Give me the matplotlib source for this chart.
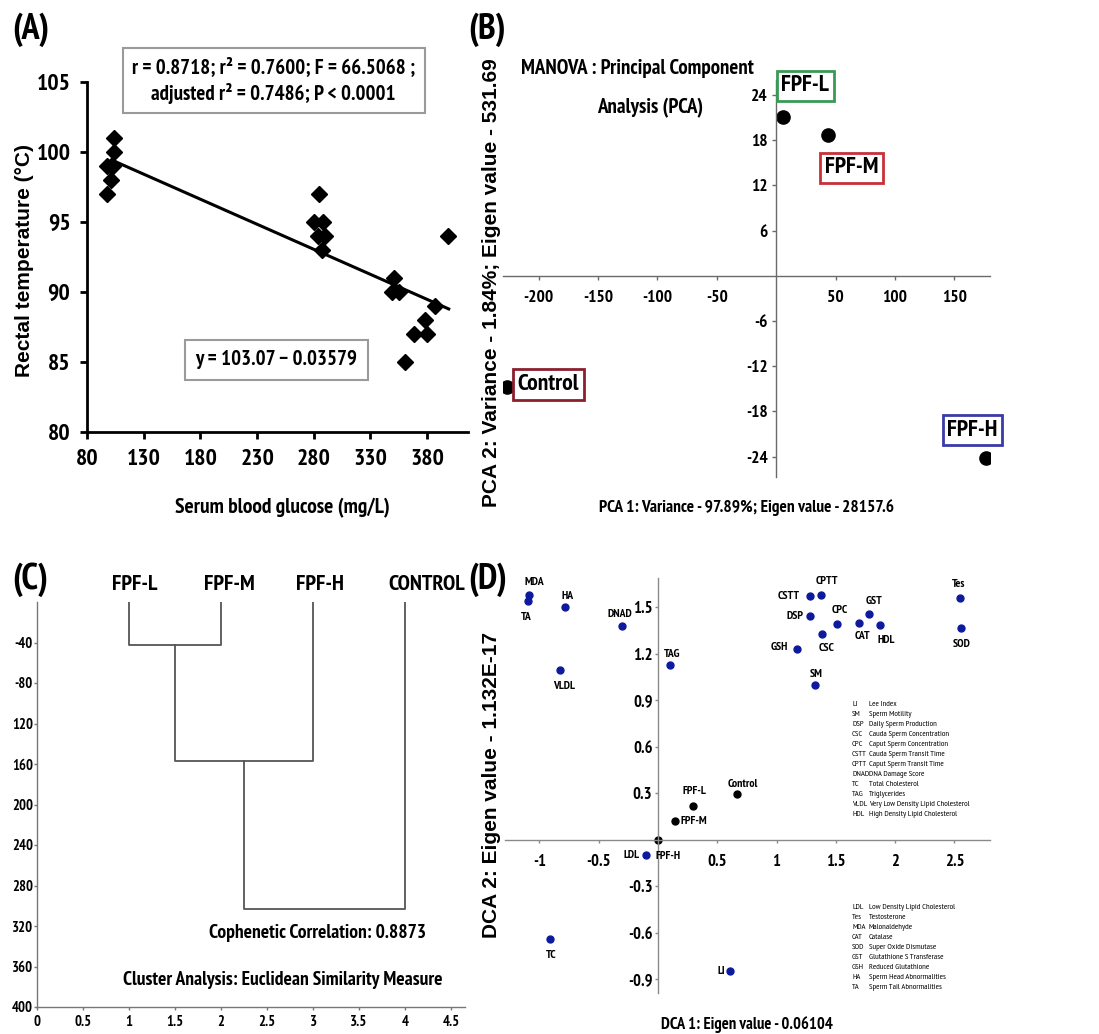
import matplotlib
matplotlib.use('Agg')
import matplotlib.pyplot as plt

# ---------------- data ----------------
# Panel A: rectal temperature vs serum blood glucose
glucose = [98, 101, 98, 101, 103, 104, 104,
           285, 280, 288, 284, 290, 287,
           350.5, 349, 355, 360, 368, 378, 379.5, 387, 398]
temperature = [97, 98, 99, 99, 99, 100, 101,
               97, 95, 95, 94, 94, 93,
               91, 90, 90, 85, 87, 88, 87, 89, 94]
fit_intercept = 103.07
fit_slope = -0.03579
fit_x = [104, 399]
a_xticks = [80, 130, 180, 230, 280, 330, 380]
a_yticks = [80, 85, 90, 95, 100, 105]
stats_text = "r = 0.8718; r\u00b2 = 0.7600; F = 66.5068 ;\nadjusted r\u00b2 = 0.7486; P < 0.0001"
eq_text = "y = 103.07 \u2212 0.03579"

# Panel B: PCA scores
pca_groups = ['FPF-L', 'FPF-M', 'Control', 'FPF-H']
pca1 = [6, 43.5, -227, 177]
pca2 = [21.1, 18.7, -14.7, -24.2]
b_xticks = [-200, -150, -100, -50, 50, 100, 150]
b_yticks = [-24, -18, -12, -6, 6, 12, 18, 24]

# Panel C: dendrogram
leaves = ['FPF-L', 'FPF-M', 'FPF-H', 'CONTROL']
leaf_x = [1, 2, 3, 4]
merges = [(0, 1, 42), (4, 2, 157), (5, 3, 303)]   # (node a, node b, height)
c_yticks = [40, 80, 120, 160, 200, 240, 280, 320, 360, 400]
c_ytick_labels = ['-40', '-80', '120', '160', '200', '240', '280', '320', '360', '400']
c_xticks = [0, 0.5, 1, 1.5, 2, 2.5, 3, 3.5, 4, 4.5]
c_xtick_labels = ['0', '0.5', '1', '1.5', '2', '2.5', '3', '3.5', '4', '4.5']

# Panel D: DCA variables and groups
dca_vars = ['MDA', 'TA', 'HA', 'DNAD', 'VLDL', 'TAG', 'TC', 'LDL', 'LI',
            'CSTT', 'CPTT', 'DSP', 'CSC', 'CPC', 'GSH', 'SM', 'CAT', 'GST',
            'HDL', 'Tes', 'SOD']
dca_var_x = [-1.09, -1.10, -0.78, -0.30, -0.83, 0.10, -0.91, -0.10, 0.61,
             1.283, 1.378, 1.283, 1.387, 1.513, 1.176, 1.328, 1.696, 1.783,
             1.873, 2.55, 2.555]
dca_var_y = [1.583, 1.54, 1.50, 1.38, 1.095, 1.125, -0.64, -0.10, -0.845,
             1.574, 1.578, 1.445, 1.33, 1.393, 1.233, 0.996, 1.397, 1.457,
             1.384, 1.56, 1.367]
dca_groups = ['FPF-L', 'FPF-M', 'Control', 'FPF-H']
dca_grp_x = [0.298, 0.146, 0.669, 0.0]
dca_grp_y = [0.215, 0.118, 0.296, 0.0]
d_xticks = [-1, -0.5, 0.5, 1, 1.5, 2, 2.5]
d_xtick_labels = ['-1', '-0.5', '0.5', '1', '1.5', '2', '2.5']
d_yticks = [-0.9, -0.6, -0.3, 0.3, 0.6, 0.9, 1.2, 1.5]
d_ytick_labels = ['-0.9', '-0.6', '-0.3', '0.3', '0.6', '0.9', '1.2', '1.5']
legend1 = [('LI', 'Lee Index'), ('SM', 'Sperm Motility'), ('DSP', 'Daily Sperm Production'),
           ('CSC', 'Cauda Sperm Concentration'), ('CPC', 'Caput Sperm Concentration'),
           ('CSTT', 'Cauda Sperm Transit Time'), ('CPTT', 'Caput Sperm Transit Time'),
           ('DNAD', 'DNA Damage Score'), ('TC', 'Total Cholesterol'), ('TAG', 'Triglycerides'),
           ('VLDL', 'Very Low Density Lipid Cholesterol'), ('HDL', 'High Density Lipid Cholesterol')]
legend2 = [('LDL', 'Low Density Lipid Cholesterol'), ('Tes', 'Testosterone'),
           ('MDA', 'Malonaldehyde'), ('CAT', 'Catalase'), ('SOD', 'Super Oxide Dismutase'),
           ('GST', 'Glutathione S Transferase'), ('GSH', 'Reduced Glutathione'),
           ('HA', 'Sperm Head Abnormalities'), ('TA', 'Sperm Tail Abnormalities')]

# ---------------- style ----------------
NARROW = ['PT Sans Narrow', 'Roboto Condensed', 'Liberation Sans', 'DejaVu Sans']
WIDE = ['Liberation Sans', 'DejaVu Sans']
plt.rcParams['font.family'] = NARROW
plt.rcParams['font.weight'] = 'bold'
plt.rcParams['axes.labelweight'] = 'bold'
plt.rcParams['axes.unicode_minus'] = False

W, H = 1099, 1034
fig = plt.figure(figsize=(W / 100, H / 100), dpi=100)


def rect(l, r, t, b):
    return [l / W, 1 - b / H, (r - l) / W, (b - t) / H]


def bold_ticks(ax, size):
    for lab in ax.get_xticklabels() + ax.get_yticklabels():
        lab.set_fontsize(size)
        lab.set_fontweight('bold')


# ---------------- Panel A ----------------
axA = fig.add_axes(rect(87, 468, 82, 432))
axA.plot(glucose, temperature, linestyle='none', marker='D', color='black', ms=8)
fy = [fit_intercept + fit_slope * x for x in fit_x]
axA.plot(fit_x, fy, color='black', lw=2.2)
axA.set_xlim(80, 416)
axA.set_ylim(80, 105)
axA.set_xticks(a_xticks)
axA.set_yticks(a_yticks)
for s in ['top', 'right']:
    axA.spines[s].set_visible(False)
for s in ['left', 'bottom']:
    axA.spines[s].set_linewidth(2)
axA.tick_params(direction='out', length=5, width=2, pad=7)
bold_ticks(axA, 17)
axA.set_xlabel('Serum blood glucose (mg/L)', fontsize=15.5, fontweight='bold')
axA.xaxis.set_label_coords(0.512, -0.217)
axA.xaxis.label.set_va('center')
axA.set_ylabel('Rectal temperature (\u00b0C)', fontsize=15, family=WIDE, fontweight='bold')
axA.yaxis.set_label_coords(-0.165, 0.491)
axA.yaxis.label.set_va('center')
axA.text(0.49, 1.004, stats_text, transform=axA.transAxes, ha='center', va='center',
         fontsize=15, linespacing=1.35,
         bbox=dict(boxstyle='square,pad=0.45', fc='white', ec='#9a9a9a', lw=1.5))
axA.text(0.497, 0.206, eq_text, transform=axA.transAxes, ha='center', va='center',
         fontsize=15,
         bbox=dict(boxstyle='square,pad=0.5', fc='white', ec='#9a9a9a', lw=1.5))
fig.text(12 / W, 1 - 30 / H, '(A)', fontsize=26, va='center', ha='left')

# ---------------- Panel B ----------------
axB = fig.add_axes(rect(503, 990, 80, 477))
axB.plot(pca1, pca2, linestyle='none', marker='o', color='black', ms=9.5)
axB.set_xlim(-230, 180)
axB.set_ylim(-26.7, 26)
axB.spines['left'].set_position(('data', 0))
axB.spines['bottom'].set_position(('data', 0))
for s in ['top', 'right']:
    axB.spines[s].set_visible(False)
for s in ['left', 'bottom']:
    axB.spines[s].set_color('#6a6a6a')
    axB.spines[s].set_linewidth(1)
axB.set_xticks(b_xticks)
axB.set_yticks(b_yticks)
axB.tick_params(direction='out', length=3, width=1, color='#6a6a6a', pad=3)
axB.tick_params(axis='x', pad=7)
bold_ticks(axB, 12.5)
b_colors = ['#3a9a55', '#c8303a', '#8a1f2e', '#3a3aa8']
b_offsets = [(22, 31), (24, -33), (42, 2), (-14, 28)]
for name, x, y, c, off in zip(pca_groups, pca1, pca2, b_colors, b_offsets):
    axB.annotate(name, (x, y), xytext=off, textcoords='offset pixels',
                 ha='center', va='center', fontsize=17,
                 bbox=dict(boxstyle='square,pad=0.2', fc='white', ec=c, lw=2))
fig.text(637 / W, 1 - 68 / H, 'MANOVA : Principal Component', ha='center', va='center', fontsize=15)
fig.text(650 / W, 1 - 108 / H, 'Analysis (PCA)', ha='center', va='center', fontsize=15)
axB.set_xlabel('PCA 1: Variance - 97.89%; Eigen value - 28157.6', fontsize=12.5, fontweight='bold')
axB.xaxis.set_label_coords(0.501, -0.078)
axB.xaxis.label.set_va('center')
axB.set_ylabel('PCA 2: Variance - 1.84%; Eigen value - 531.69', fontsize=15, family=WIDE,
               fontweight='bold')
axB.yaxis.set_label_coords(-0.0226, 0.489)
axB.yaxis.label.set_va('center')
fig.text(468 / W, 1 - 30 / H, '(B)', fontsize=26, va='center', ha='left')

# ---------------- Panel C ----------------
axC = fig.add_axes(rect(37, 465, 602, 1007))
nodes = {i: (leaf_x[i], 0.0) for i in range(len(leaf_x))}
for k, (a, b, h) in enumerate(merges):
    xa, ya = nodes[a]
    xb, yb = nodes[b]
    axC.plot([xa, xa, xb, xb], [ya, h, h, yb], color='#555555', lw=1.3)
    nodes[len(leaf_x) + k] = ((xa + xb) / 2, h)
axC.set_xlim(0, 4.65)
axC.set_ylim(400, 0)
for s in ['top', 'right']:
    axC.spines[s].set_visible(False)
for s in ['left', 'bottom']:
    axC.spines[s].set_color('#777777')
    axC.spines[s].set_linewidth(1)
axC.set_yticks(c_yticks)
axC.set_yticklabels(c_ytick_labels)
axC.set_xticks(c_xticks)
axC.set_xticklabels(c_xtick_labels)
axC.tick_params(direction='out', length=2, width=1, color='#777777', pad=1)
axC.tick_params(axis='x', pad=4)
bold_ticks(axC, 10.5)
for name, x in zip(leaves, leaf_x):
    axC.annotate(name, (x, 0), xytext=(-17, 17), textcoords='offset pixels',
                 ha='left', va='center', fontsize=16, annotation_clip=False)
axC.text(3.05, 327, 'Cophenetic Correlation: 0.8873', ha='center', va='center', fontsize=14)
axC.text(2.67, 373.6, 'Cluster Analysis: Euclidean Similarity Measure', ha='center', va='center',
         fontsize=14)
fig.text(12 / W, 1 - 580 / H, '(C)', fontsize=26, va='center', ha='left')

# ---------------- Panel D ----------------
axD = fig.add_axes(rect(505, 990, 578, 993))
axD.plot(dca_var_x, dca_var_y, linestyle='none', marker='o', color='#0d1a9e', ms=5)
axD.plot(dca_grp_x, dca_grp_y, linestyle='none', marker='o', color='black', ms=5)
axD.set_xlim(-1.29, 2.80)
axD.set_ylim(-0.99, 1.69)
axD.spines['left'].set_position(('data', 0))
axD.spines['bottom'].set_position(('data', 0))
for s in ['top', 'right']:
    axD.spines[s].set_visible(False)
for s in ['left', 'bottom']:
    axD.spines[s].set_color('#8a8a8a')
    axD.spines[s].set_linewidth(1)
axD.set_xticks(d_xticks)
axD.set_xticklabels(d_xtick_labels)
axD.set_yticks(d_yticks)
axD.set_yticklabels(d_ytick_labels)
axD.tick_params(direction='out', length=2, width=1, color='#8a8a8a', pad=2)
axD.tick_params(axis='x', pad=8)
bold_ticks(axD, 12)
var_offsets = {'MDA': (6, 13), 'TA': (-1, -16), 'HA': (2, 11), 'DNAD': (-3, 12),
               'VLDL': (5, -16), 'TAG': (2, 11), 'TC': (1, -16), 'LDL': (-12, 0),
               'LI': (-10, 0), 'CSTT': (-15, 0), 'CPTT': (5, 14), 'DSP': (-12, 0),
               'CSC': (4, -14), 'CPC': (2, 14), 'GSH': (-14, 2), 'SM': (1, 11),
               'CAT': (3, -13), 'GST': (5, 13), 'HDL': (6, -15), 'Tes': (-2, 14),
               'SOD': (1, -16)}
for name, x, y in zip(dca_vars, dca_var_x, dca_var_y):
    dx, dy = var_offsets[name]
    ha = 'right' if (dx <= -10 and abs(dy) < 4) else 'center'
    axD.annotate(name, (x, y), xytext=(dx + (5 if ha == 'right' else 0), dy),
                 textcoords='offset pixels', ha=ha, va='center', fontsize=8.5)
grp_offsets = {'FPF-L': (1, 15, 'center'), 'FPF-M': (5, 0, 'left'),
               'Control': (6, 10, 'center'), 'FPF-H': (-2, -16, 'left')}
for name, x, y in zip(dca_groups, dca_grp_x, dca_grp_y):
    dx, dy, ha = grp_offsets[name]
    axD.annotate(name, (x, y), xytext=(dx, dy), textcoords='offset pixels',
                 ha=ha, va='center', fontsize=8.5)
for block, y0 in [(legend1, 0.6957), (legend2, 0.2065)]:
    for i, (ab, desc) in enumerate(block):
        yy = y0 - i * 0.0241
        axD.text(0.7155, yy, ab, transform=axD.transAxes, fontsize=6,
                 fontweight='normal', va='center', ha='left')
        axD.text(0.7505, yy, desc, transform=axD.transAxes, fontsize=6,
                 fontweight='normal', va='center', ha='left')
axD.set_xlabel('DCA 1: Eigen value - 0.06104', fontsize=12, fontweight='bold')
axD.xaxis.set_label_coords(0.499, -0.077)
axD.xaxis.label.set_va('center')
axD.set_ylabel('DCA 2: Eigen value - 1.132E-17', fontsize=15, family=WIDE, fontweight='bold')
axD.yaxis.set_label_coords(-0.027, 0.501)
axD.yaxis.label.set_va('center')
fig.text(468 / W, 1 - 580 / H, '(D)', fontsize=26, va='center', ha='left')

fig.savefig('out.png', dpi=100)
